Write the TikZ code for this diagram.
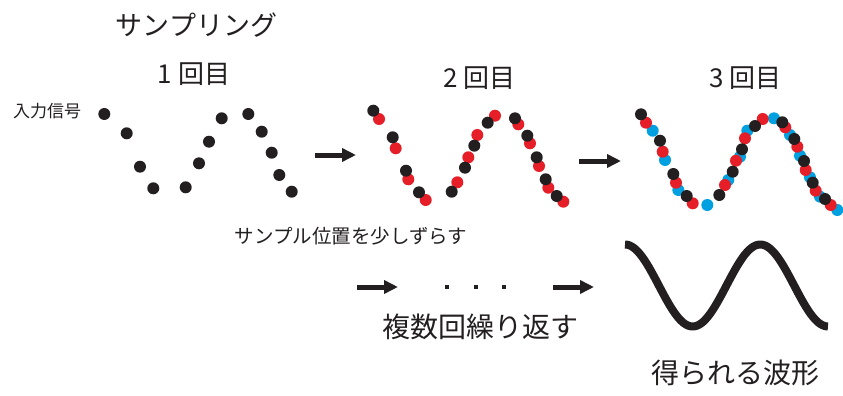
\documentclass[tikz,border=0pt]{standalone}
\usepackage{fontspec}
\newfontfamily\jp{Noto Sans CJK JP}
\usetikzlibrary{arrows.meta}
\definecolor{inkblack}{RGB}{35,31,32}
\definecolor{dotred}{RGB}{230,30,40}
\definecolor{dotblue}{RGB}{0,160,225}
\tikzset{
  jptext/.style={font=\jp, inner sep=0pt, anchor=base, text=inkblack},
  bigarrow/.style={draw=inkblack, line width=5pt, -{Triangle[length=14pt,width=13pt]}},
  blackdot/.style={fill=inkblack},
  reddot/.style={fill=dotred},
  bluedot/.style={fill=dotblue},
  smalldot/.style={fill=inkblack, inner sep=0pt, minimum size=4.5pt, draw=none, rectangle},
}
\begin{document}
\begin{tikzpicture}[x=1pt,y=-1pt]
\useasboundingbox (0,0) rectangle (843,396);

% titles
\node[jptext, font=\jp\fontsize{27}{27}\selectfont] (title) at (196.5,36) {サンプリング};
\node[jptext, font=\jp\fontsize{26}{26}\selectfont] (first) at (194,84) {1 回目};
\node[jptext, font=\jp\fontsize{26}{26}\selectfont] (second) at (479.5,87) {2 回目};
\node[jptext, font=\jp\fontsize{26}{26}\selectfont] (third) at (745.5,87) {3 回目};
\node[jptext, font=\jp\fontsize{17}{17}\selectfont] (input) at (47,117.5) {入力信号};
\node[jptext, font=\jp\fontsize{19.5}{19.5}\selectfont] (shift) at (351,243.5) {サンプル位置を少しずらす};
\node[jptext, font=\jp\fontsize{28}{28}\selectfont] (repeat) at (480,337.5) {複数回繰り返す};
\node[jptext, font=\jp\fontsize{28}{28}\selectfont] (result) at (735,383) {得られる波形};

% wave 1
\foreach \x/\y in {104.3/114,126.7/133.3,140/166.7,153.3/188.3,185.7/187.3,199/163.3,209/141.7,221.7/118.3,248.3/114,261.7/131.7,271.7/152.7,279.3/175,291.7/191.7}
  \fill[blackdot] (\x,\y) circle[radius=6pt];

% wave 2
\foreach \x/\y in {379/119,395.7/148.3,408.3/179.3,425.7/200,457.3/182.3,468.3/157.3,477.3/135,495/115.7,518.3/124.3,530/143.3,539/166,548.3/187.7,563.3/201.7}
  \fill[reddot] (\x,\y) circle[radius=6pt];
\foreach \x/\y in {373.3/110.7,392.7/137.3,406/170.7,419/192.3,451.7/191.7,465/167.7,474.3/145.7,487.7/122.7,515/118.3,527.3/135.7,536.7/157.3,545.7/179.3,556.7/196}
  \fill[blackdot] (\x,\y) circle[radius=6pt];

% wave 3
\foreach \x/\y in {652.7/130.7,665/160,678.3/190,707.3/205,728.3/180,740/156.7,747.3/130.7,774/118.3,790/135,800/155.7,810/177.3,820/196.7,837.3/210}
  \fill[bluedot] (\x,\y) circle[radius=6pt];
\foreach \x/\y in {646/122.7,662.7/151.7,676/182.7,692.7/203.3,725/185,736/160.7,745/138.3,762.7/119,785.3/127.3,797.3/146.7,805.7/170,815.7/190.7,830.7/205}
  \fill[reddot] (\x,\y) circle[radius=6pt];
\foreach \x/\y in {641/114.3,660/140.7,673.3/174,686.7/196,719.3/195,732.7/171.7,742/149.3,755/126,782.3/122.3,794.3/139,804/161,812.7/182.7,825/199}
  \fill[blackdot] (\x,\y) circle[radius=6pt];

% arrows
\coordinate (a1s) at (315,155);
\coordinate (a1e) at (356,155);
\coordinate (a2s) at (579,161);
\coordinate (a2e) at (621,161);
\coordinate (a3s) at (357,287);
\coordinate (a3e) at (398,287);
\coordinate (a4s) at (553,287);
\coordinate (a4e) at (594,287);
\draw[bigarrow] (a1s) -- (a1e);
\draw[bigarrow] (a2s) -- (a2e);
\draw[bigarrow] (a3s) -- (a3e);
\draw[bigarrow] (a4s) -- (a4e);

% dots between
\node[smalldot] (d1) at (447,287) {};
\node[smalldot] (d2) at (476,287) {};
\node[smalldot] (d3) at (504,287) {};

% resulting waveform
\draw[draw=inkblack, line width=8pt] plot[domain=0:1.5, samples=120, smooth] ({625+\x*135.3}, {285.5-41*cos(\x*360)});
\end{tikzpicture}
\end{document}
